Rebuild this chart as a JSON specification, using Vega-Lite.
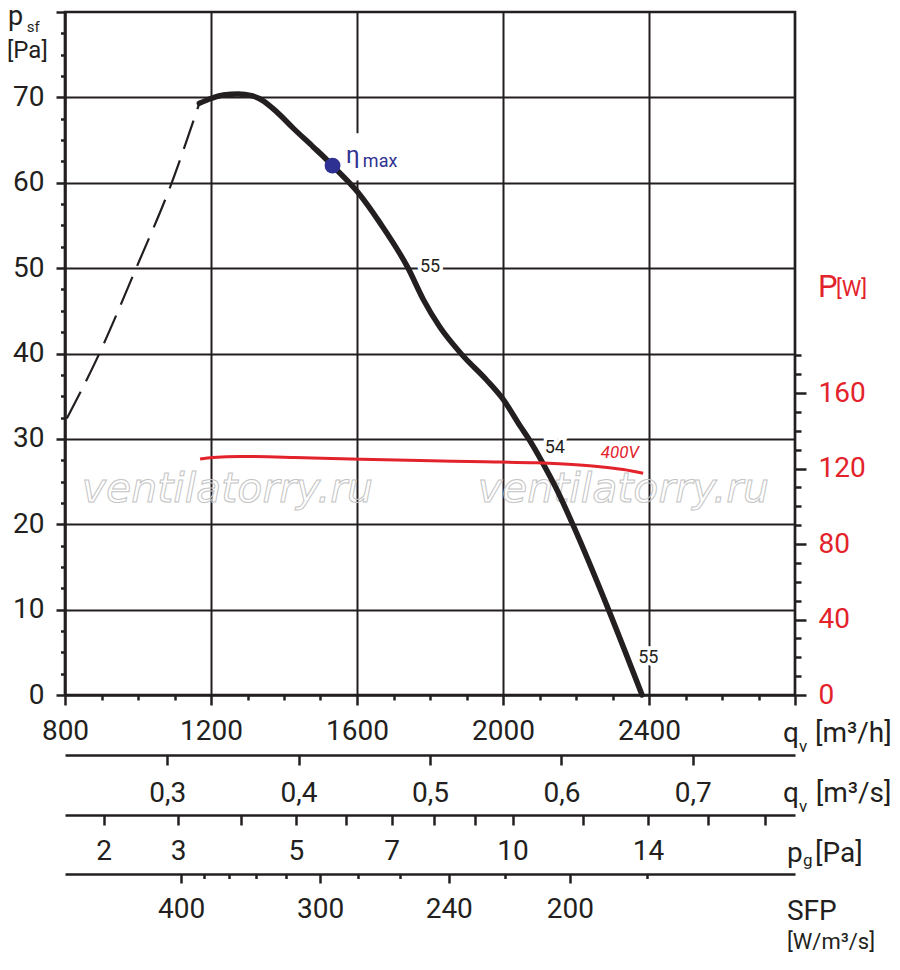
{
  "$schema": "https://vega.github.io/schema/vega-lite/v6.json",
  "width": 730,
  "height": 683,
  "autosize": {"type": "none"},
  "padding": {"left": 65, "top": 12, "right": 105, "bottom": 275},
  "background": "white",
  "config": {
    "font": "Roboto",
    "view": {"stroke": "#231f20", "strokeWidth": 2.7},
    "axis": {
      "labelFont": "Roboto",
      "labelFontSize": 28,
      "labelColor": "#231f20",
      "domainColor": "#231f20",
      "domainWidth": 2.5,
      "tickColor": "#231f20",
      "tickWidth": 2.5,
      "labelOverlap": false,
      "labelFlush": false,
      "grid": false
    }
  },
  "datasets": {
    "fan": [
      {"q": 1168, "p": 69.3}, {"q": 1202, "p": 69.9}, {"q": 1234, "p": 70.28}, {"q": 1275, "p": 70.4},
      {"q": 1311, "p": 70.2}, {"q": 1343, "p": 69.6}, {"q": 1380, "p": 68.3}, {"q": 1425, "p": 66.4},
      {"q": 1480, "p": 64.2}, {"q": 1517, "p": 62.7}, {"q": 1533, "p": 62.0}, {"q": 1604, "p": 58.8},
      {"q": 1663, "p": 55.3}, {"q": 1740, "p": 50.0}, {"q": 1782, "p": 46.3}, {"q": 1827, "p": 43.1},
      {"q": 1889, "p": 39.8}, {"q": 1955, "p": 36.9}, {"q": 2001, "p": 34.6}, {"q": 2047, "p": 31.5},
      {"q": 2072, "p": 29.9}, {"q": 2106, "p": 27.4}, {"q": 2147, "p": 24.1}, {"q": 2193, "p": 19.8},
      {"q": 2289, "p": 10.0}, {"q": 2381, "p": 0}
    ],
    "stall": [
      {"q": 805, "p": 32.4}, {"q": 882, "p": 38.9}, {"q": 1001, "p": 50.6}, {"q": 1088, "p": 59.5}, {"q": 1168, "p": 69.3}
    ],
    "power": [
      {"q": 1170, "P": 125.0}, {"q": 1205, "P": 125.9}, {"q": 1280, "P": 126.4}, {"q": 1430, "P": 125.9},
      {"q": 1612, "P": 124.9}, {"q": 1773, "P": 124.2}, {"q": 1950, "P": 123.6}, {"q": 2092, "P": 123.0},
      {"q": 2200, "P": 122.0}, {"q": 2265, "P": 121.0}, {"q": 2330, "P": 119.5}, {"q": 2384, "P": 117.5}
    ],
    "eta": [{"q": 1533, "p": 62.0}],
    "etaBox": [{"q": 1564, "q2": 1718, "p": 60.25, "p2": 65.8}],
    "etaSym": [{"q": 1570, "p": 62.27, "t": "η"}],
    "etaTxt": [{"q": 1616, "p": 61.88, "t": "max"}],
    "curveLbl": [
      {"q": 1800, "p": 50.13, "t": "55"},
      {"q": 2142, "p": 28.93, "t": "54"},
      {"q": 2398, "p": 4.3, "t": "55"}
    ],
    "volt": [{"q": 2320, "p": 28.3, "t": "400V"}],
    "wm": [
      {"q": 846, "p": 22.6, "t": "ventilatorry.ru"},
      {"q": 1931, "p": 22.6, "t": "ventilatorry.ru"}
    ],
    "ttlBig": [
      {"q": 2767, "p": -5.51, "t": "q"}, {"q": 2855, "p": -5.51, "t": "[m³/h]"},
      {"q": 2767, "p": -12.5, "t": "q"}, {"q": 2857, "p": -12.5, "t": "[m³/s]"},
      {"q": 2778, "p": -19.56, "t": "p"}, {"q": 2855, "p": -19.56, "t": "[Pa]"},
      {"q": 2778, "p": -26.35, "t": "SFP"}
    ],
    "ttlMid": [{"q": 2778, "p": -29.75, "t": "[W/m³/s]"}],
    "ttlSub": [
      {"q": 2811, "p": -6.68, "t": "v"}, {"q": 2811, "p": -13.67, "t": "v"},
      {"q": 2822, "p": -20.03, "t": "g"}
    ],
    "ttlSf": [{"q": 695, "p": 77.7, "t": "sf"}],
    "ttlLeftP": [{"q": 644, "p": 78.48, "t": "p"}],
    "ttlLeftU": [{"q": 641, "p": 74.6, "t": "[Pa]"}],
    "ttlP": [{"q": 2863, "p": 46.62, "t": "P"}],
    "ttlW": [{"q": 2912, "p": 46.73, "t": "[W]"}],
    "ms": [{"v": 0.3}, {"v": 0.4}, {"v": 0.5}, {"v": 0.6}, {"v": 0.7}],
    "pg": [{"v": 2}, {"v": 3}, {"v": 5}, {"v": 7}, {"v": 10}, {"v": 14}],
    "sfp": [{"v": 400}, {"v": 300}, {"v": 240}, {"v": 200}]
  },
  "layer": [
    {
      "encoding": {
        "x": {
          "field": "q", "type": "quantitative", "title": null,
          "scale": {"domain": [800, 2800], "nice": false, "zero": false},
          "axis": {
            "values": [800, 900, 1000, 1100, 1200, 1300, 1400, 1500, 1600, 1700, 1800, 1900, 2000, 2100, 2200, 2300, 2400, 2500, 2600, 2700, 2800],
            "labelExpr": "datum.value % 400 === 0 && datum.value < 2800 ? format(datum.value, 'd') : ''",
            "tickSize": {"condition": {"test": "datum.value % 400 === 0", "value": 10}, "value": 5},
            "labelPadding": 12,
            "grid": true,
            "gridColor": "#231f20",
            "gridWidth": 2,
            "gridOpacity": {"condition": {"test": "datum.value % 400 === 0 && datum.value > 800 && datum.value < 2800", "value": 1}, "value": 0}
          }
        },
        "y": {
          "field": "p", "type": "quantitative", "title": null,
          "scale": {"domain": [0, 80], "nice": false, "zero": false},
          "axis": {
            "orient": "left",
            "values": [0, 2.5, 5, 7.5, 10, 12.5, 15, 17.5, 20, 22.5, 25, 27.5, 30, 32.5, 35, 37.5, 40, 42.5, 45, 47.5, 50, 52.5, 55, 57.5, 60, 62.5, 65, 67.5, 70, 72.5, 75, 77.5, 80],
            "labelExpr": "datum.value % 10 === 0 && datum.value < 80 ? format(datum.value, 'd') : ''",
            "tickSize": {"condition": {"test": "datum.value % 10 === 0", "value": 9}, "value": 4.5},
            "labelPadding": 12,
            "labelBaseline": "middle",
            "grid": true,
            "gridColor": "#231f20",
            "gridWidth": 2,
            "gridOpacity": {"condition": {"test": "datum.value % 10 === 0 && datum.value > 0 && datum.value < 80", "value": 1}, "value": 0}
          }
        }
      },
      "layer": [
        {
          "data": {"name": "wm"},
          "mark": {"type": "text", "font": "DejaVu Sans", "fontStyle": "italic", "fontSize": 41, "align": "left", "baseline": "alphabetic", "fillOpacity": 0, "stroke": "#c4c4c4", "strokeWidth": 1},
          "encoding": {"text": {"field": "t"}}
        },
        {
          "data": {"name": "etaBox"},
          "mark": {"type": "rect", "color": "white"},
          "encoding": {"x2": {"field": "q2"}, "y2": {"field": "p2"}}
        },
        {
          "data": {"name": "stall"},
          "mark": {"type": "line", "color": "#231f20", "strokeWidth": 2.2, "strokeDash": [30, 12], "interpolate": "monotone"}
        },
        {
          "data": {"name": "fan"},
          "mark": {"type": "line", "color": "#231f20", "strokeWidth": 5.5, "interpolate": "monotone", "strokeCap": "round"}
        },
        {
          "data": {"name": "curveLbl"},
          "mark": {"type": "text", "fontSize": 18, "align": "center", "baseline": "middle", "color": "white", "stroke": "white", "strokeWidth": 7},
          "encoding": {"text": {"field": "t"}}
        },
        {
          "data": {"name": "curveLbl"},
          "mark": {"type": "text", "fontSize": 18, "align": "center", "baseline": "middle", "color": "#231f20"},
          "encoding": {"text": {"field": "t"}}
        },
        {
          "data": {"name": "eta"},
          "mark": {"type": "point", "filled": true, "size": 250, "color": "#2e3192", "opacity": 1}
        },
        {
          "data": {"name": "etaSym"},
          "mark": {"type": "text", "fontSize": 24, "align": "left", "baseline": "alphabetic", "color": "#2e3192"},
          "encoding": {"text": {"field": "t"}}
        },
        {
          "data": {"name": "etaTxt"},
          "mark": {"type": "text", "fontSize": 18, "align": "left", "baseline": "alphabetic", "color": "#2e3192"},
          "encoding": {"text": {"field": "t"}}
        },
        {
          "data": {"name": "volt"},
          "mark": {"type": "text", "fontSize": 17, "fontStyle": "italic", "align": "center", "baseline": "middle", "color": "#e3232b"},
          "encoding": {"text": {"field": "t"}}
        },
        {
          "data": {"name": "ttlBig"},
          "mark": {"type": "text", "fontSize": 28, "align": "left", "baseline": "alphabetic", "color": "#231f20"},
          "encoding": {"text": {"field": "t"}}
        },
        {
          "data": {"name": "ttlMid"},
          "mark": {"type": "text", "fontSize": 22, "align": "left", "baseline": "alphabetic", "color": "#231f20"},
          "encoding": {"text": {"field": "t"}}
        },
        {
          "data": {"name": "ttlSub"},
          "mark": {"type": "text", "fontSize": 17, "align": "left", "baseline": "alphabetic", "color": "#231f20"},
          "encoding": {"text": {"field": "t"}}
        },
        {
          "data": {"name": "ttlSf"},
          "mark": {"type": "text", "fontSize": 15, "align": "left", "baseline": "alphabetic", "color": "#231f20"},
          "encoding": {"text": {"field": "t"}}
        },
        {
          "data": {"name": "ttlLeftP"},
          "mark": {"type": "text", "fontSize": 27, "align": "left", "baseline": "alphabetic", "color": "#231f20"},
          "encoding": {"text": {"field": "t"}}
        },
        {
          "data": {"name": "ttlLeftU"},
          "mark": {"type": "text", "fontSize": 24, "align": "left", "baseline": "alphabetic", "color": "#231f20"},
          "encoding": {"text": {"field": "t"}}
        },
        {
          "data": {"name": "ttlP"},
          "mark": {"type": "text", "fontSize": 31, "align": "left", "baseline": "alphabetic", "color": "#e3232b"},
          "encoding": {"text": {"field": "t"}}
        },
        {
          "data": {"name": "ttlW"},
          "mark": {"type": "text", "fontSize": 22, "align": "left", "baseline": "alphabetic", "color": "#e3232b"},
          "encoding": {"text": {"field": "t"}}
        }
      ]
    },
    {
      "data": {"name": "power"},
      "mark": {"type": "line", "color": "#e3232b", "strokeWidth": 3, "interpolate": "monotone"},
      "encoding": {
        "x": {"field": "q", "type": "quantitative", "title": null, "scale": {"domain": [800, 2800], "nice": false, "zero": false}, "axis": null},
        "y": {
          "field": "P", "type": "quantitative", "title": null,
          "scale": {"domain": [0, 361.9], "nice": false, "zero": false},
          "axis": {
            "orient": "right",
            "values": [0, 10, 20, 30, 40, 50, 60, 70, 80, 90, 100, 110, 120, 130, 140, 150, 160, 170, 180],
            "labelExpr": "datum.value % 40 === 0 ? format(datum.value, 'd') : ''",
            "labelColor": "#e3232b",
            "labelBaseline": "middle",
            "tickSize": {"condition": {"test": "datum.value % 40 === 0", "value": 11}, "value": 6},
            "labelPadding": 12,
            "domain": false
          }
        }
      }
    },
    {
      "data": {"name": "ms"},
      "mark": {"type": "point", "opacity": 0},
      "encoding": {
        "x": {
          "field": "v", "type": "quantitative", "title": null,
          "scale": {"domain": [0.22222, 0.77778], "nice": false, "zero": false},
          "axis": {
            "orient": "bottom", "offset": 60,
            "values": [0.3, 0.4, 0.5, 0.6, 0.7],
            "labelExpr": "replace(format(datum.value, '.1f'), '.', ',')",
            "tickSize": 10, "labelPadding": 14
          }
        }
      }
    },
    {
      "data": {"name": "pg"},
      "mark": {"type": "point", "opacity": 0},
      "encoding": {
        "x": {
          "field": "v", "type": "quantitative", "title": null,
          "scale": {"type": "sqrt", "domain": [1.559, 19.099], "nice": false, "zero": false},
          "axis": {
            "orient": "bottom", "offset": 120,
            "values": [2, 3, 4, 5, 6, 7, 8, 9, 10, 12, 14, 16, 18],
            "labelExpr": "indexof([2, 3, 5, 7, 10, 14], datum.value) >= 0 ? format(datum.value, 'd') : ''",
            "tickSize": 10, "labelPadding": 12
          }
        }
      }
    },
    {
      "data": {"name": "sfp"},
      "mark": {"type": "point", "opacity": 0},
      "encoding": {
        "x": {
          "field": "v", "type": "quantitative", "title": null,
          "scale": {"type": "pow", "exponent": -0.7, "domain": [537.2, 150.1], "nice": false, "zero": false},
          "axis": {
            "orient": "bottom", "offset": 179,
            "values": [400, 380, 360, 340, 320, 300, 280, 260, 240, 220, 200, 180],
            "labelExpr": "indexof([400, 300, 240, 200], datum.value) >= 0 ? format(datum.value, 'd') : ''",
            "tickSize": {"condition": {"test": "indexof([400, 300, 240, 200], datum.value) >= 0", "value": 9}, "value": 4.5},
            "labelPadding": 12
          }
        }
      }
    }
  ],
  "resolve": {"scale": {"x": "independent", "y": "independent"}}
}
